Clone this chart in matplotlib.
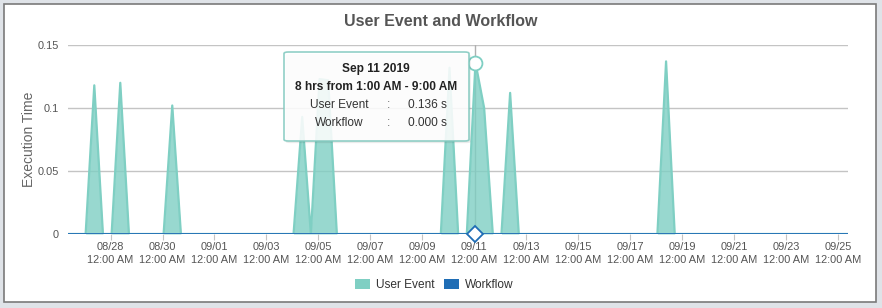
import numpy as np
import pandas as pd
import matplotlib
matplotlib.use("Agg")
import matplotlib.pyplot as plt
import matplotlib.dates as mdates
from matplotlib.patches import Rectangle, FancyBboxPatch, Patch

plt.rcParams['font.family'] = ['Liberation Sans', 'DejaVu Sans']

# 8-hour buckets (1:00, 9:00, 17:00), User Event non-zero buckets
peak_times = ['2019-08-27 09:00', '2019-08-28 09:00', '2019-08-30 09:00',
              '2019-09-04 09:00', '2019-09-05 01:00', '2019-09-05 09:00',
              '2019-09-10 01:00', '2019-09-11 01:00', '2019-09-11 09:00',
              '2019-09-12 09:00', '2019-09-18 09:00']
peak_values = [0.118, 0.120, 0.102, 0.093, 0.123, 0.122,
               0.132, 0.136, 0.100, 0.112, 0.137]
workflow_level = 0.0

buckets = pd.date_range('2019-08-26 09:00', '2019-09-25 09:00', freq='8h')
user_event = pd.Series(0.0, index=buckets)
user_event[pd.to_datetime(peak_times)] = peak_values
workflow = pd.Series(workflow_level, index=buckets)

tick_dates = pd.date_range('2019-08-28', '2019-09-25', freq='2D')
yticks = [0, 0.05, 0.1, 0.15]

teal = '#7fcfc3'
blue = '#1f6db5'
grey_txt = '#555555'

fig = plt.figure(figsize=(8.82, 3.08), dpi=100)
fig.patch.set_facecolor('#dfe3e8')
W, H = 882, 308
fig.patches.append(Rectangle((3.5 / W, 6 / H), 872.5 / W, 298.5 / H, transform=fig.transFigure,
                             facecolor='white', edgecolor='#7a7a7a', lw=1.2, zorder=-5))

ax = fig.add_axes([68.3 / W, 1 - 234 / H, (848 - 68.3) / W, (234 - 45) / H])
ax.set_facecolor('none')
ax.set_zorder(1)

x = mdates.date2num(user_event.index.to_pydatetime())
ax.fill_between(x, 0, user_event.values, color=teal, alpha=0.8, lw=0, zorder=2)
ax.plot(x, user_event.values, color=teal, lw=1.6, zorder=3)
ax.plot(x, workflow.values, color=blue, lw=2, zorder=4)

ax.set_xlim(x[0], x[-1])
ax.set_ylim(0, 0.15)
ax.set_yticks(yticks)
ax.set_yticklabels(['0', '0.05', '0.1', '0.15'])
ax.yaxis.grid(True, color='#c4c4c4', lw=1)
ax.set_axisbelow(True)
ax.set_xticks(mdates.date2num(tick_dates.to_pydatetime()))
ax.set_xticklabels([d.strftime('%m/%d') + '\n12:00 AM' for d in tick_dates], linespacing=1.3)
ax.tick_params(axis='x', length=4, color='#c4c4c4', labelsize=7.9, labelcolor=grey_txt, pad=2)
ax.tick_params(axis='y', length=0, labelsize=7.9, labelcolor=grey_txt, pad=7)
for s in ['top', 'right', 'left', 'bottom']:
    ax.spines[s].set_visible(False)
ax.set_ylabel('Execution Time', fontsize=10, color='#666666', labelpad=1)

fig.text(0.5, 1 - 22 / H, 'User Event and Workflow', ha='center', va='center',
         fontsize=11.5, fontweight='bold', color=grey_txt)

# hovered point: Sep 11 1:00 AM
hx = mdates.date2num(pd.Timestamp(peak_times[7]).to_pydatetime())
hy = peak_values[7]
ax.axvline(hx, color='#b0b0b0', lw=1, zorder=1)
ax.plot(hx, hy, 'o', ms=10, mfc='white', mec=teal, mew=1.3, zorder=6, clip_on=False)
ax.plot(hx, workflow_level, 'D', ms=8, mfc='white', mec=blue, mew=1.3, zorder=6, clip_on=False)

# tooltip
bx0, by0, bx1, by1 = 284, 52, 469, 141
fig.patches.append(FancyBboxPatch((bx0 / W + 0.002, 1 - by1 / H - 0.007), (bx1 - bx0) / W, (by1 - by0) / H,
                                  boxstyle='round,pad=0,rounding_size=0.005', transform=fig.transFigure,
                                  facecolor='#000000', alpha=0.08, edgecolor='none', zorder=7))
fig.patches.append(FancyBboxPatch((bx0 / W, 1 - by1 / H), (bx1 - bx0) / W, (by1 - by0) / H,
                                  boxstyle='round,pad=0,rounding_size=0.005', transform=fig.transFigure,
                                  facecolor='white', alpha=0.88, edgecolor='#82c9bf', lw=1.2, zorder=8))
tk = dict(ha='center', va='center', fontsize=8.6, zorder=9)
fig.text(376 / W, 1 - 69 / H, 'Sep 11 2019', fontweight='bold', color='#222222', **tk)
fig.text(376 / W, 1 - 87 / H, '8 hrs from 1:00 AM - 9:00 AM', fontweight='bold', color='#222222', **tk)
fig.text(339 / W, 1 - 105 / H, 'User Event', color='#333333', **tk)
fig.text(388 / W, 1 - 105 / H, ':', color='#666666', **tk)
fig.text(427 / W, 1 - 105 / H, '%.3f s' % hy, color='#333333', **tk)
fig.text(339 / W, 1 - 123 / H, 'Workflow', color='#333333', **tk)
fig.text(388 / W, 1 - 123 / H, ':', color='#666666', **tk)
fig.text(427 / W, 1 - 123 / H, '%.3f s' % workflow_level, color='#333333', **tk)

handles = [Patch(facecolor=teal, edgecolor='none', label='User Event'),
           Patch(facecolor=blue, edgecolor='none', label='Workflow')]
fig.legend(handles=handles, loc='center', bbox_to_anchor=(434.5 / W, 1 - 285 / H), ncol=2,
           frameon=False, fontsize=8.6, handlelength=1.25, handleheight=1.0,
           handletextpad=0.5, columnspacing=0.8, labelcolor='#333333')

fig.savefig('out.png', dpi=100, facecolor=fig.get_facecolor())
